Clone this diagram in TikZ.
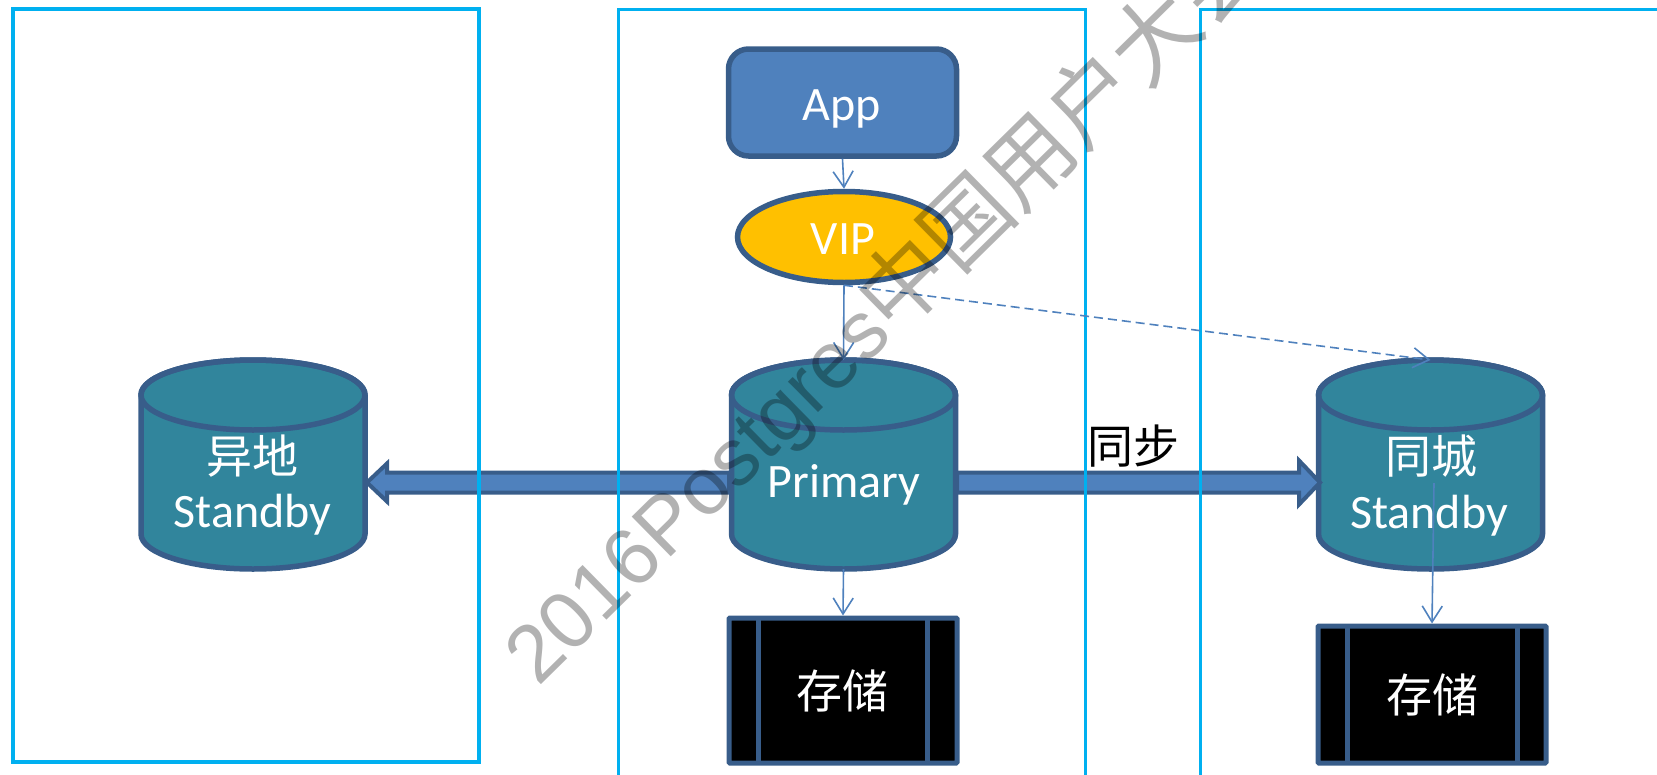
\documentclass[tikz,border=0pt]{standalone}
\usepackage{fontspec}
\setmainfont{Carlito}
\newfontfamily\cjk{Noto Sans CJK SC}
\newfontfamily\wmfont{Liberation Sans}
\usetikzlibrary{arrows.meta,shapes.geometric,calc}
\definecolor{fillblue}{HTML}{4F81BD}
\definecolor{edgeblue}{HTML}{385D8A}
\definecolor{dbteal}{HTML}{31859C}
\definecolor{vipgold}{HTML}{FFC000}
\definecolor{zonecyan}{HTML}{00B0F0}
\tikzset{
  zone/.style={draw=zonecyan,line width=3.8pt},
  shapeline/.style={draw=edgeblue,line width=5.5pt},
  dbframe/.style={minimum width=224pt,minimum height=209pt,inner sep=0pt,outer sep=0pt},
  store/.style={draw=edgeblue,line width=5pt,fill=black,rounded corners=1pt,minimum width=228pt,inner sep=0pt},
  lab/.style={text=white,font=\fontsize{48}{50}\selectfont,inner sep=0pt},
  cjklab/.style={text=white,font=\fontsize{46}{50}\selectfont\cjk,inner sep=0pt},
  link/.style={draw=fillblue,line width=1.6pt,-{Straight Barb[length=16pt,width=20pt,line width=1.6pt]}},
  block/.style={draw=edgeblue,fill=fillblue,line width=4pt,line join=miter},
}
% cylinder: an empty frame node, then the body and the top ellipse drawn on its anchors
\newcommand{\dbcyl}[2]{%
  \node[dbframe] (#1) at (#2) {};
  \draw[shapeline,fill=dbteal]
    ($(#1.north west)+(0,35)$) -- ($(#1.south west)+(0,-35)$)
    arc[start angle=180,end angle=360,x radius=112pt,y radius=35pt]
    -- ($(#1.north east)+(0,35)$)
    arc[start angle=0,end angle=180,x radius=112pt,y radius=35pt] -- cycle;
  \draw[shapeline] ($(#1.north)+(0,35)$) ellipse[x radius=112pt,y radius=35pt];
}
\begin{document}
\begin{tikzpicture}[x=1pt,y=-1pt]
\clip (0,0) rectangle (1657,774);
% shapes
\node[shapeline,fill=fillblue,rounded corners=20pt,minimum width=228pt,minimum height=107pt,inner sep=0pt] (app) at (842.5,102.5) {};
\node[shapeline,fill=vipgold,ellipse,minimum width=213pt,minimum height=91pt,inner sep=0pt] (vip) at (844,237) {};
\dbcyl{primary}{843.5,464.5}
\dbcyl{remote}{253,464.5}
\dbcyl{standby}{1430.5,464.5}
\node[store,minimum height=145pt] (store1) at (843,690.5) {};
\node[store,minimum height=137pt] (store2) at (1432,694.5) {};
\draw[edgeblue,line width=5pt] (758,618) -- (758,763) (927,618) -- (927,763);
\draw[edgeblue,line width=5pt] (1347,626) -- (1347,763) (1517,626) -- (1517,763);
% block arrows
\coordinate (pL) at (729,482.5);
\coordinate (pR) at (957,482.5);
\coordinate (rT) at (367,482.5);
\coordinate (sT) at (1320,482.5);
\draw[block] ($(pL)+(0,-10)$) -- ($(rT)+(20,-10)$) -- ($(rT)+(20,-19)$) -- (rT) -- ($(rT)+(20,19)$) -- ($(rT)+(20,10)$) -- ($(pL)+(0,10)$) -- cycle;
\draw[block] ($(pR)+(0,-10)$) -- ($(sT)+(-21,-10)$) -- ($(sT)+(-21,-22)$) -- (sT) -- ($(sT)+(-21,22)$) -- ($(sT)+(-21,10)$) -- ($(pR)+(0,10)$) -- cycle;
% zones
\node[zone,minimum width=466pt,minimum height=753pt,inner sep=0pt] (zoneA) at (246,385.5) {};
\node[zone,minimum width=467pt,minimum height=800pt,inner sep=0pt,anchor=north west] (zoneB) at (616.5,7.5) {};
\node[zone,minimum width=500pt,minimum height=800pt,inner sep=0pt,anchor=north west] (zoneC) at (1198.5,7.5) {};
% labels
\node[lab,anchor=base] (tApp) at (842,120) {App};
\node[lab,anchor=base] (tVip) at (843,254) {VIP};
\node[lab,anchor=base] (tPri) at (844,497) {Primary};
\node[cjklab] (tRem) at (252,456) {异地};
\node[lab,anchor=base] (tRem2) at (252.5,527) {Standby};
\node[cjklab] (tSb) at (1431,456) {同城};
\node[lab,anchor=base] (tSb2) at (1429,528) {Standby};
\node[cjklab] (tSt1) at (842,691) {存储};
\node[cjklab] (tSt2) at (1432,695) {存储};
\node[cjklab,text=black] (tSync) at (1133,446) {同步};
% connectors
\coordinate (sbInner) at (1434,483);
\draw[link] (app.south) -- (vip.north);
\draw[link] (vip.south) -- (primary.north);
\draw[link] (primary.south) -- (store1.north);
\draw[link,dashed,dash pattern=on 9pt off 5pt] (vip.south) -- (standby.north);
\draw[link] (sbInner) -- (store2.north);
% watermark
\node[anchor=base west,rotate=44.5,inner sep=0pt,text=black,text opacity=0.3,font=\fontsize{81}{90}\selectfont\wmfont] (wm) at (538,688) {2016Postgres{\fontsize{88}{90}\selectfont\cjk 中国用户大会}};
\end{tikzpicture}
\end{document}
